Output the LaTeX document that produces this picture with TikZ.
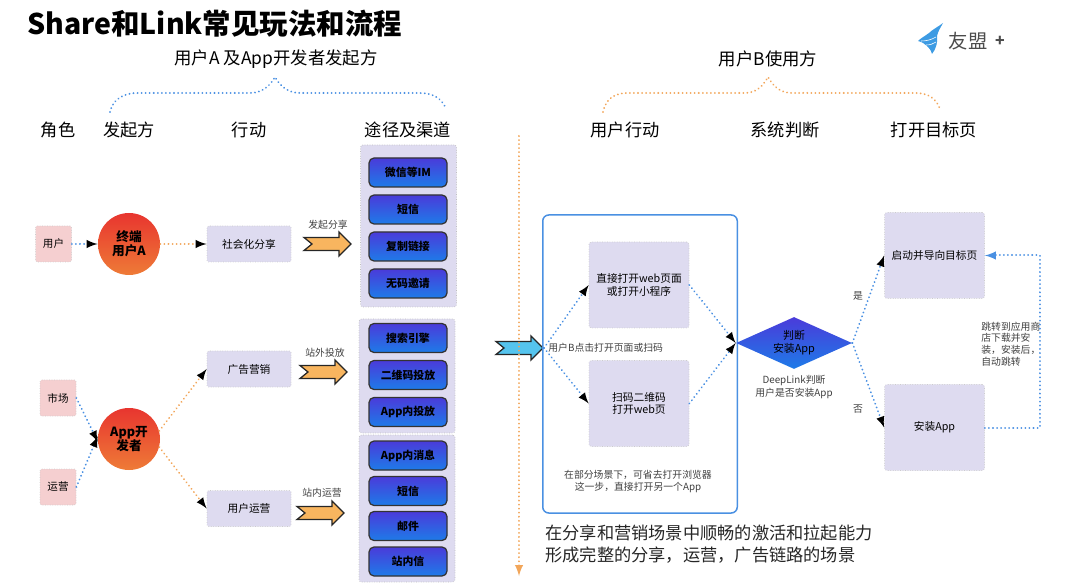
\documentclass[tikz,border=0pt]{standalone}
\usepackage{fontspec}
\setmainfont{Noto Sans CJK SC}
\usepackage{tikz}
\usetikzlibrary{shapes.geometric}
\definecolor{lavender}{HTML}{DEDBF0}
\definecolor{rolepink}{HTML}{F5CFD0}
\definecolor{dotblue}{HTML}{4A90E2}
\definecolor{dotorange}{HTML}{F2A65A}
\definecolor{arroworange}{HTML}{F8B55F}
\definecolor{arrowblue}{HTML}{55C4EE}
\definecolor{btntop}{HTML}{4A3BDA}
\definecolor{btnbottom}{HTML}{1E7BE8}
\definecolor{circletop}{HTML}{E8352F}
\definecolor{circlebottom}{HTML}{EE7B37}
\definecolor{logoblue}{HTML}{3D9BE3}
\begin{document}
\begin{tikzpicture}[x=0.2mm,y=-0.2mm]
    % Setup the styles for the boxes
        \tikzset{head label/.style={font=\fontsize{9.8}{11}\selectfont},
                 group label/.style={font=\fontsize{9.9}{11}\selectfont},
                 small label/.style={font=\fontsize{5.6}{7}\selectfont,text=black!75,align=center,inner sep=0},
                 group box/.style={rectangle,rounded corners=0.5mm,fill=lavender,draw=black!25,densely dotted,
                                   minimum width=19.2mm},
                 channel/.style={rectangle,rounded corners=1mm,draw=black!80,line width=0.25mm,solid,
                                 top color=btntop,bottom color=btnbottom,text=black,
                                 minimum width=15.6mm,minimum height=5.8mm,inner sep=0,
                                 font=\fontsize{6.2}{7}\selectfont\bfseries},
                 role/.style={rectangle,rounded corners=0.3mm,fill=rolepink,draw=black!20,densely dotted,minimum width=7.2mm,
                              minimum height=7.2mm,inner sep=0,font=\fontsize{6}{7}\selectfont},
                 action/.style={rectangle,rounded corners=0.3mm,fill=lavender,draw=black!20,densely dotted,minimum width=16.8mm,
                                minimum height=7.2mm,inner sep=0,font=\fontsize{6.1}{7}\selectfont},
                 target/.style={rectangle,rounded corners=0.5mm,fill=lavender,draw=black!20,densely dotted,
                                minimum width=20mm,minimum height=17.2mm,inner sep=0,align=center,
                                font=\fontsize{6.1}{7.2}\selectfont},
                 starter/.style={circle,minimum size=12.4mm,inner sep=0,top color=circletop,
                                 bottom color=circlebottom,align=center,
                                 font=\fontsize{7.2}{8.2}\selectfont\bfseries},
                 blue link/.style={draw=dotblue,line width=0.4mm,line cap=round,dash pattern=on 0.01mm off 0.8mm,>=latex},
                 orange link/.style={draw=dotorange,line width=0.4mm,line cap=round,dash pattern=on 0.01mm off 0.8mm,>=latex},
                 big arrow/.pic={\draw[pic actions,line width=0.25mm,draw=black!85,line join=miter]
                     (0,-6.5) -- (35,-6.5) -- (35,-12) -- (47,0) -- (35,12) -- (35,6.5) -- (0,6.5) -- (8,0) -- cycle;}}
        \useasboundingbox (0,0) rectangle (1080,583);
        % Title and logo
        \node[anchor=west,inner sep=0,font=\fontsize{16.2}{18}\selectfont\bfseries] at (27,24) (title) {Share和Link常见玩法和流程};
        \fill[logoblue] (943,23) .. controls (938,27) and (933,29) .. (929,33) .. controls (925,36) and (921,38) .. (918,41)
            .. controls (922,42) and (925,44) .. (927,46) .. controls (929,48) and (931,50) .. (932,54)
            .. controls (936,49) and (938,42) .. (937,36) .. controls (938,31) and (941,27) .. (943,23) -- cycle;
        \draw[white,line width=0.12mm] (921,41) .. controls (926,41) and (931,40) .. (936,37);
        \draw[white,line width=0.12mm] (926,45) .. controls (930,45) and (933,44) .. (936,42);
        \node[inner sep=0,text=black!70,font=\fontsize{11}{12}\selectfont] at (968,41) (logo) {友盟};
        \node[inner sep=0,text=black!70,font=\fontsize{9}{10}\selectfont\bfseries] at (1000,41) (plus) {+};
        % Group headings
        \node[group label] at (276,59) (senders) {用户A 及App开发者发起方};
        \node[group label] at (768,59) (receivers) {用户B使用方};
        \node[head label] at (58,130) (col1) {角色};
        \node[head label] at (129,130) (col2) {发起方};
        \node[head label] at (249,130) (col3) {行动};
        \node[head label] at (408,130) (col4) {途径及渠道};
        \node[head label] at (625,130) (col5) {用户行动};
        \node[head label] at (785,130) (col6) {系统判断};
        \node[head label] at (934,130) (col7) {打开目标页};
        % Dotted braces under the headings
        \draw[blue link] (110,112) .. controls (113,98) and (125,93) .. (138,93) -- (250,93)
            .. controls (262,93) and (270,86) .. (275,77) .. controls (280,86) and (288,93) .. (300,93) -- (420,93)
            .. controls (432,93) and (442,98) .. (446,109);
        \draw[orange link] (603,112) .. controls (606,98) and (615,93) .. (628,93) -- (745,93)
            .. controls (756,93) and (763,86) .. (768,77) .. controls (773,86) and (780,93) .. (792,93) -- (915,93)
            .. controls (928,93) and (936,98) .. (940,109);
        % Channel groups
        \node[group box,minimum height=32.4mm] at (408.5,226) (group1) {};
        \node[group box,minimum height=22.8mm] at (407,376) (group2) {};
        \node[group box,minimum height=29.4mm] at (407,508.5) (group3) {};
        \node[channel] at (408,172.5) (im) {微信等IM};
        \node[channel] at (408,209.5) (sms1) {短信};
        \node[channel] at (408,246.5) (copy) {复制链接};
        \node[channel] at (408,283.5) (nocode) {无码邀请};
        \node[channel] at (408,338) (search) {搜索引擎};
        \node[channel] at (408,375) (qr) {二维码投放};
        \node[channel] at (408,412) (inapp) {App内投放};
        \node[channel] at (408,455.5) (inmsg) {App内消息};
        \node[channel] at (408,491) (sms2) {短信};
        \node[channel] at (408,526) (mail) {邮件};
        \node[channel] at (408,561.5) (station) {站内信};
        % Roles, starters and actions
        \node[role] at (53.5,244) (user) {用户};
        \node[role] at (58,398) (market) {市场};
        \node[role] at (58,487) (ops) {运营};
        \node[starter] at (129,244) (termA) {终端\\用户A};
        \node[starter] at (129,439) (dev) {App开\\发者};
        \node[action] at (249,244) (share) {社会化分享};
        \node[action] at (249,369) (ads) {广告营销};
        \node[action] at (249,508.5) (userops) {用户运营};
        % Big arrows
        \pic[fill=arroworange] at (304,244) {big arrow};
        \pic[fill=arroworange] at (300,372) {big arrow};
        \pic[fill=arroworange] at (297,513) {big arrow};
        \pic[fill=arrowblue] at (496,348) {big arrow};
        \node[small label] at (328,225) (lab1) {发起分享};
        \node[small label] at (325,353) (lab2) {站外投放};
        \node[small label] at (322,493) (lab3) {站内运营};
        % Receiver side
        \node[rectangle,rounded corners=1.2mm,draw=dotblue,line width=0.3mm,minimum width=38.9mm,minimum height=59.6mm] at (640,364) (frame) {};
        \node[target] at (639,285) (direct) {直接打开web页面\\或打开小程序};
        \node[target] at (639,403.5) (scan) {扫码二维码\\打开web页};
        \node[diamond,minimum width=23.2mm,minimum height=10.4mm,inner sep=0,aspect=2.2,
              top color=btntop,bottom color=btnbottom,align=center,
              font=\fontsize{6.2}{7.4}\selectfont] at (794,343) (check) {判断\\安装App};
        \node[target] at (934.5,255.5) (open) {启动并导向目标页};
        \node[target] at (934.5,427.5) (install) {安装App};
        \coordinate (click) at (544,348);
        \coordinate (turn1) at (1040,427.5);
        \coordinate (turn2) at (1040,255.5);
        \node[small label,anchor=west] at (548,348) (lab4) {用户B点击打开页面或扫码};
        \node[small label] at (794,387) (lab5) {DeepLink判断\\用户是否安装App};
        \node[small label] at (638,481.5) (lab6) {在部分场景下，可省去打开浏览器\\这一步，直接打开另一个App};
        \node[small label] at (858,296) (yes) {是};
        \node[small label] at (858,409) (no) {否};
        \node[small label,anchor=west,align=left,font=\fontsize{5.6}{6.6}\selectfont] at (981,344) (lab7) {跳转到应用商\\店下载并安\\装，安装后，\\自动跳转};
        \node[anchor=west,inner sep=0,align=left,text=black!85,font=\fontsize{9.8}{12.5}\selectfont] at (545,544) (summary) {在分享和营销场景中顺畅的激活和拉起能力\\形成完整的分享，运营，广告链路的场景};
        % Connect the nodes with dotted arrows
        \draw[blue link]
            (user.east) edge[->] (termA.west)
            (market.east) edge[->] (dev.185)
            (ops.east) edge[->] (dev.175)
            (click) edge[->] (direct.west)
            (click) edge[->] (scan.west)
            (direct.east) edge[->] (check.west)
            (scan.east) edge[->] (check.west)
            (check.east) edge[->] (open.west)
            (check.east) edge[->] (install.west);
        \draw[blue link,->] (install.east) -- (turn1) -- (turn2) -- (open.east);
        \draw[orange link]
            (termA.east) edge[->] (share.west)
            (dev.15) edge[->] (ads.west)
            (dev.-15) edge[->] (userops.west);
        \coordinate (railtop) at (519,136);
        \coordinate (railend) at (519,576);
        \draw[orange link,->] (railtop) -- (railend);
\end{tikzpicture}
\end{document}
